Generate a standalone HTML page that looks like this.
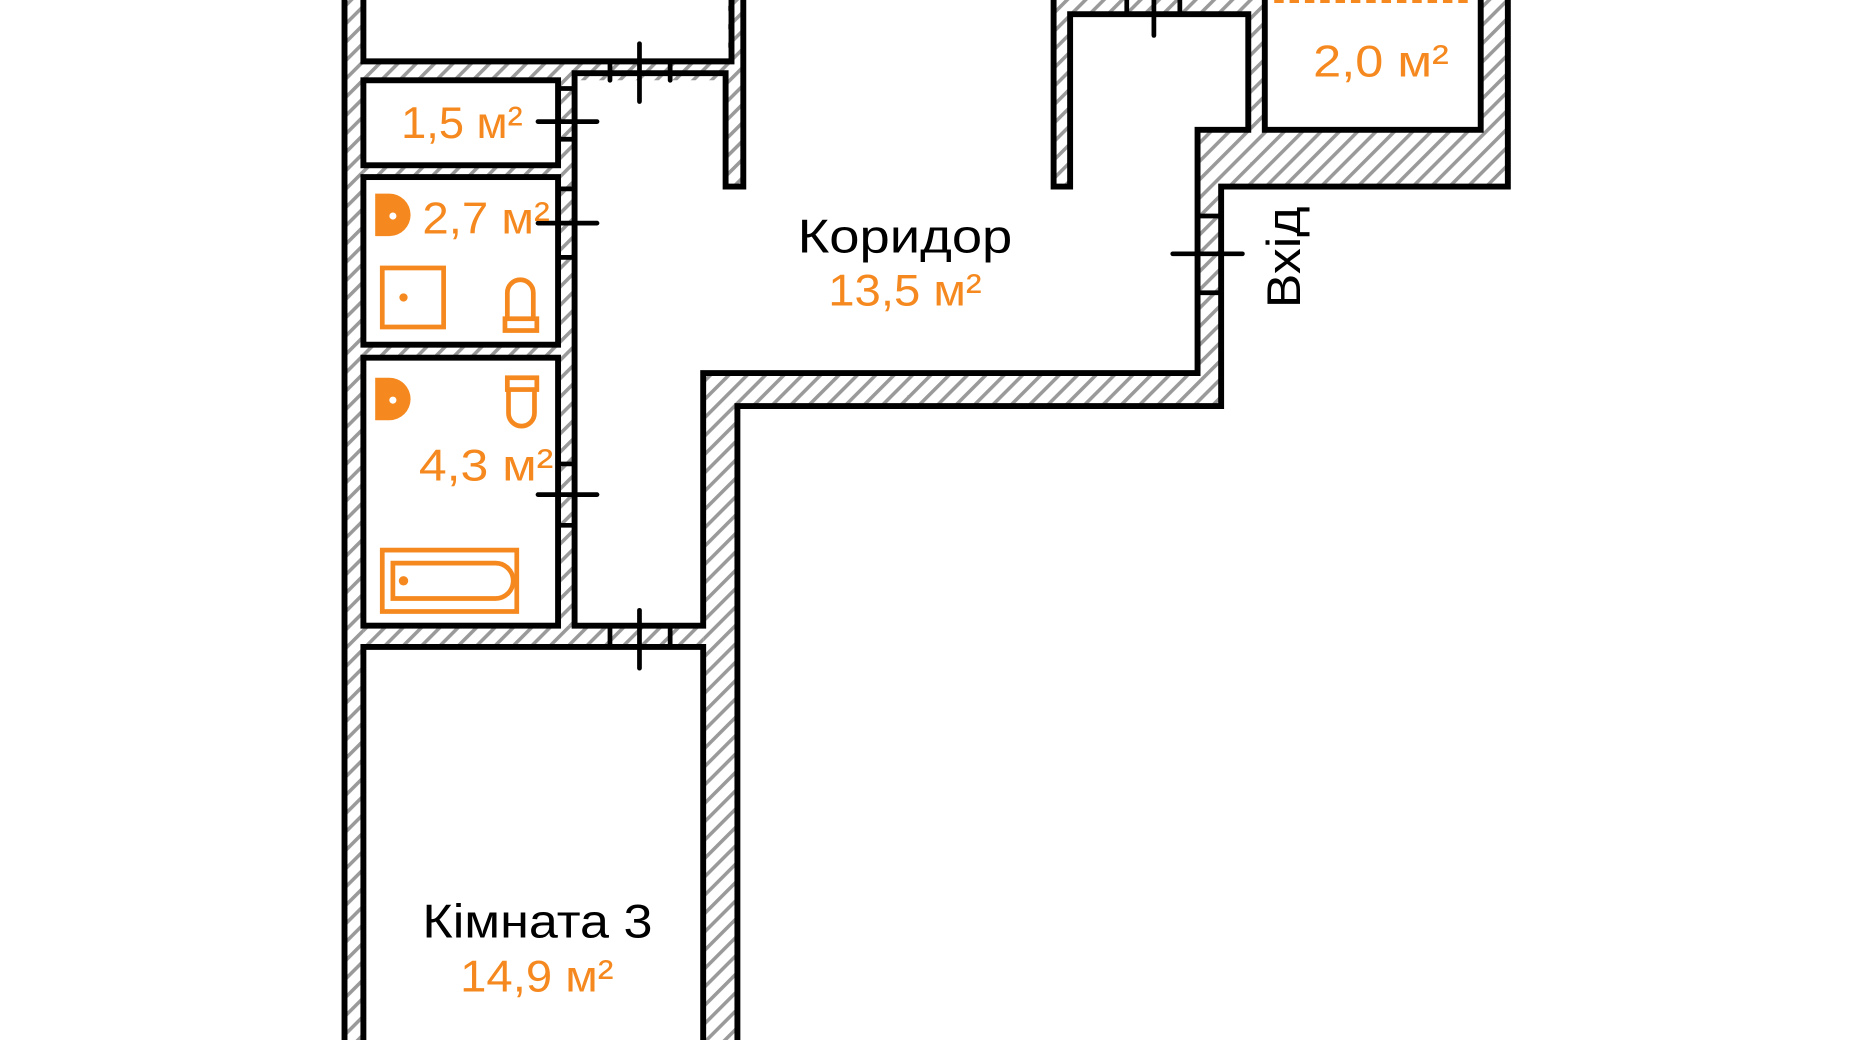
<!DOCTYPE html>
<html><head><meta charset="utf-8"><style>
html,body{margin:0;padding:0;background:#fff;width:1850px;height:1040px;overflow:hidden}
svg{display:block}
text{font-family:"Liberation Sans",sans-serif}
</style></head><body>
<svg width="1850" height="1040" viewBox="0 0 1568 881" preserveAspectRatio="none" xmlns="http://www.w3.org/2000/svg">
<defs>
<pattern id="h" patternUnits="userSpaceOnUse" width="11" height="11" patternTransform="rotate(45)">
<rect width="11" height="11" fill="#fff"/><rect x="0" y="0" width="3" height="11" fill="#9a9a9a"/>
</pattern>
</defs>
<g fill="url(#h)">
<rect x="292" y="0" width="16" height="881"/>
<rect x="617" y="0" width="13" height="158"/>
<rect x="308" y="52" width="322" height="16"/>
<rect x="473" y="62" width="14" height="468"/>
<rect x="308" y="140" width="165" height="10"/>
<rect x="308" y="292" width="165" height="11"/>
<rect x="308" y="530" width="288" height="18"/>
<rect x="596" y="316" width="29" height="565"/>
<rect x="596" y="316" width="439" height="28"/>
<rect x="1015" y="110" width="20" height="234"/>
<rect x="1015" y="110" width="263" height="48"/>
<rect x="1255" y="0" width="23" height="158"/>
<rect x="893" y="0" width="14" height="158"/>
<rect x="893" y="0" width="179" height="12"/>
<rect x="1058" y="0" width="14" height="110"/>
</g>
<g fill="none" stroke="#000" stroke-width="5" stroke-linejoin="miter" stroke-linecap="square">
<line x1="292" y1="0" x2="292" y2="881"/>
<polyline points="308,0 308,52 620,52 620,0"/>
<polyline points="630,0 630,158 615,158 615,62 487,62 487,530 596,530 596,316 1015,316 1015,110 1058,110 1058,12 907,12 907,158 893,158 893,0"/>
<rect x="308" y="68" width="165" height="72"/>
<rect x="308" y="150" width="165" height="142"/>
<rect x="308" y="303" width="165" height="227"/>
<polyline points="308,881 308,548 596,548 596,881"/>
<polyline points="625,881 625,344 1035,344 1035,158 1278,158 1278,0"/>
<polyline points="1072,0 1072,110 1255,110 1255,0"/>
</g>
<g stroke="#000" stroke-width="4" stroke-linecap="round">
<line x1="542" y1="37" x2="542" y2="86"/>
<line x1="517" y1="52" x2="517" y2="68"/><line x1="568" y1="52" x2="568" y2="68"/>
<line x1="542" y1="517" x2="542" y2="566"/>
<line x1="517" y1="530" x2="517" y2="548"/><line x1="568" y1="530" x2="568" y2="548"/>
<line x1="456" y1="103" x2="506" y2="103"/>
<line x1="473" y1="75" x2="487" y2="75"/><line x1="473" y1="118" x2="487" y2="118"/>
<line x1="456" y1="189" x2="506" y2="189"/>
<line x1="473" y1="160" x2="487" y2="160"/><line x1="473" y1="218" x2="487" y2="218"/>
<line x1="456" y1="419" x2="506" y2="419"/>
<line x1="473" y1="393" x2="487" y2="393"/><line x1="473" y1="445" x2="487" y2="445"/>
<line x1="994" y1="215" x2="1053" y2="215"/>
<line x1="1015" y1="183" x2="1035" y2="183"/><line x1="1015" y1="248" x2="1035" y2="248"/>
<line x1="978" y1="0" x2="978" y2="30"/>
<line x1="955" y1="0" x2="955" y2="12"/><line x1="1000" y1="0" x2="1000" y2="12"/>
</g>
<line x1="1080" y1="1" x2="1248" y2="1" stroke="#f5891f" stroke-width="3" stroke-dasharray="8,5"/>
<g fill="none" stroke="#f5891f" stroke-width="4">
<rect x="324" y="227" width="52" height="50"/>
<path d="M430,270 L430,248 A11,11 0 0 1 452,248 L452,270"/>
<rect x="428" y="270" width="27" height="10"/>
<rect x="430" y="320" width="25" height="10"/>
<path d="M431,330 L431,350 A11,11 0 0 0 453,350 L453,330"/>
<rect x="324" y="466" width="114" height="52"/>
<path d="M333,477 L420,477 A15,15 0 0 1 420,507 L333,507 Z"/>
</g>
<g fill="#f5891f">
<circle cx="342" cy="252" r="3.5"/>
<circle cx="342" cy="492" r="4"/>
<path d="M318,164 L330,164 A18,18 0 0 1 330,200 L318,200 Z"/>
<path d="M318,320 L330,320 A18,18 0 0 1 330,356 L318,356 Z"/>
</g>
<g fill="#fff"><circle cx="333" cy="183" r="3"/><circle cx="333" cy="339" r="3"/></g>
<g font-size="38" fill="#f5891f">
<text x="340" y="117" textLength="103" lengthAdjust="spacingAndGlyphs">1,5 м²</text>
<text x="358" y="198" textLength="108" lengthAdjust="spacingAndGlyphs">2,7 м²</text>
<text x="355" y="407" textLength="114" lengthAdjust="spacingAndGlyphs">4,3 м²</text>
<text x="1113" y="65" textLength="115" lengthAdjust="spacingAndGlyphs">2,0 м²</text>
<text x="702" y="259" textLength="130" lengthAdjust="spacingAndGlyphs">13,5 м²</text>
<text x="390" y="840" textLength="130" lengthAdjust="spacingAndGlyphs">14,9 м²</text>
</g>
<g font-size="40" fill="#000">
<text x="676" y="214" textLength="182" lengthAdjust="spacingAndGlyphs">Коридор</text>
<text x="358" y="794" textLength="195" lengthAdjust="spacingAndGlyphs">Кімната 3</text>
<text x="0" y="0" transform="translate(1102,261) rotate(-90)" textLength="86" lengthAdjust="spacingAndGlyphs">Вхід</text>
</g>
</svg>
</body></html>
